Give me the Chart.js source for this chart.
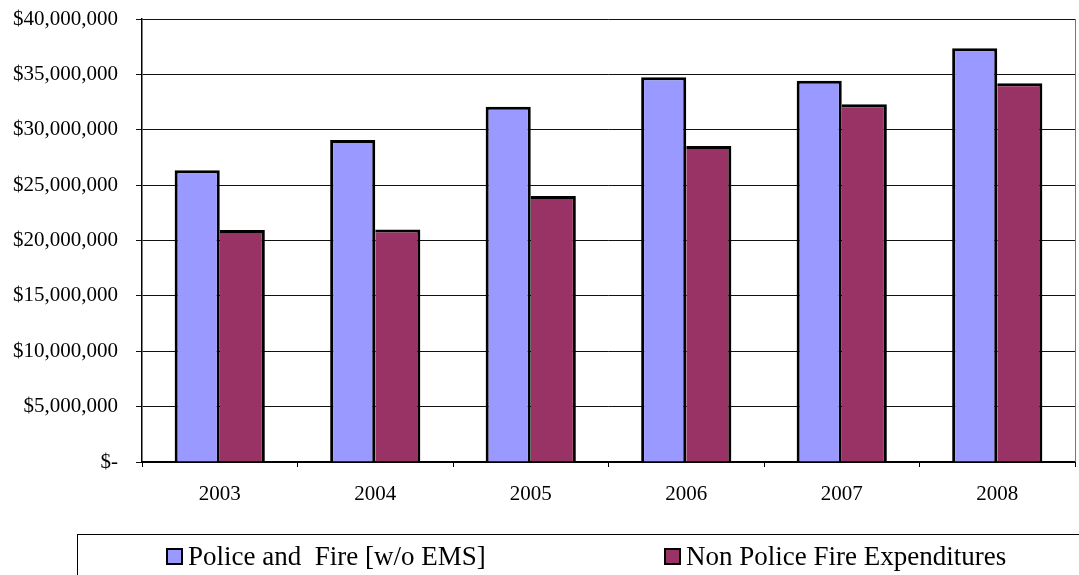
<!DOCTYPE html>
<html>
<head>
<meta charset="utf-8">
<script src="https://cdn.jsdelivr.net/npm/chart.js@4/dist/chart.umd.min.js"></script>
<style>
  html, body { margin: 0; padding: 0; background: #fff; }
  #wrap { width: 1079px; height: 575px; position: relative; }
</style>
</head>
<body>
<div id="wrap"><canvas id="c" width="1079" height="575"></canvas></div>
<script>
// Annual expenditures, in dollars
const years = ['2003', '2004', '2005', '2006', '2007', '2008'];
const policeFire = [26350000, 29070000, 32080000, 34730000, 34430000, 37350000];
const nonPoliceFire = [20950000, 21000000, 24020000, 28530000, 32300000, 34190000];
const seriesNames = ['Police and  Fire [w/o EMS]', 'Non Police Fire Expenditures'];
const seriesColors = ['#9999FF', '#993366'];

const SERIF = "'Liberation Serif', 'Times New Roman', serif";

function moneyLabel(v) {
  if (v === 0) return '$-';
  return '$' + v.toLocaleString('en-US');
}

// Boxed legend row under the plot, plus a thin frame line on the plot's right edge
const boxLegend = {
  id: 'boxLegend',
  afterDraw(chart) {
    const ctx = chart.ctx;
    const area = chart.chartArea;
    ctx.save();
    // right frame of the plot area
    ctx.strokeStyle = '#777';
    ctx.lineWidth = 1;
    ctx.beginPath();
    ctx.moveTo(area.right + 0.5, area.top);
    ctx.lineTo(area.right + 0.5, area.bottom);
    ctx.stroke();

    // legend frame
    ctx.strokeStyle = '#000';
    ctx.lineWidth = 1;
    ctx.strokeRect(77.5, 534.5, 1010, 60);

    const itemX = [167, 665];
    const midY = 557;
    ctx.font = '27px ' + SERIF;
    ctx.textBaseline = 'middle';
    ctx.textAlign = 'left';
    chart.data.datasets.forEach((ds, i) => {
      const x = itemX[i];
      ctx.fillStyle = ds.backgroundColor;
      ctx.fillRect(x, midY - 8, 15, 15);
      ctx.lineWidth = 2;
      ctx.strokeStyle = '#000';
      ctx.strokeRect(x, midY - 8, 15, 15);
      ctx.fillStyle = '#000';
      ctx.fillText(ds.label, x + 21, midY + 1);
    });
    ctx.restore();
  }
};

new Chart(document.getElementById('c'), {
  type: 'bar',
  data: {
    labels: years,
    datasets: [
      {
        label: seriesNames[0],
        data: policeFire,
        backgroundColor: seriesColors[0],
        borderColor: '#000',
        borderWidth: 3,
        borderSkipped: 'start',
        categoryPercentage: 0.58,
        barPercentage: 1.0
      },
      {
        label: seriesNames[1],
        data: nonPoliceFire,
        backgroundColor: seriesColors[1],
        borderColor: '#000',
        // the left edge is shared with the taller neighbouring bar's outline
        borderWidth: { top: 3, right: 3, bottom: 0, left: 0 },
        borderSkipped: false,
        categoryPercentage: 0.58,
        barPercentage: 1.0
      }
    ]
  },
  options: {
    responsive: false,
    animation: false,
    devicePixelRatio: 1,
    layout: { padding: { top: 19, right: 4, left: 0, bottom: 0 } },
    plugins: {
      legend: { display: false },
      tooltip: { enabled: false }
    },
    scales: {
      x: {
        afterFit(scale) {
          scale.height = 113;
          scale.paddingLeft = 0;
          scale.paddingRight = 0;
        },
        grid: {
          offset: true,
          drawOnChartArea: false,
          drawTicks: true,
          tickLength: 5,
          color: '#000',
          lineWidth: 1
        },
        border: { color: '#000', width: 2 },
        ticks: {
          color: '#000',
          padding: 15,
          font: { family: SERIF, size: 21 }
        }
      },
      y: {
        min: 0,
        max: 40000000,
        afterFit(scale) {
          scale.width = 142;
          scale.paddingTop = 0;
          scale.paddingBottom = 0;
        },
        grid: {
          color: '#111',
          lineWidth: 1,
          drawTicks: true,
          tickLength: 6
        },
        border: { color: '#000', width: 1.5 },
        ticks: {
          stepSize: 5000000,
          color: '#000',
          padding: 18,
          font: { family: SERIF, size: 21 },
          callback: (v) => moneyLabel(v)
        }
      }
    }
  },
  plugins: [boxLegend]
});
</script>
</body>
</html>
